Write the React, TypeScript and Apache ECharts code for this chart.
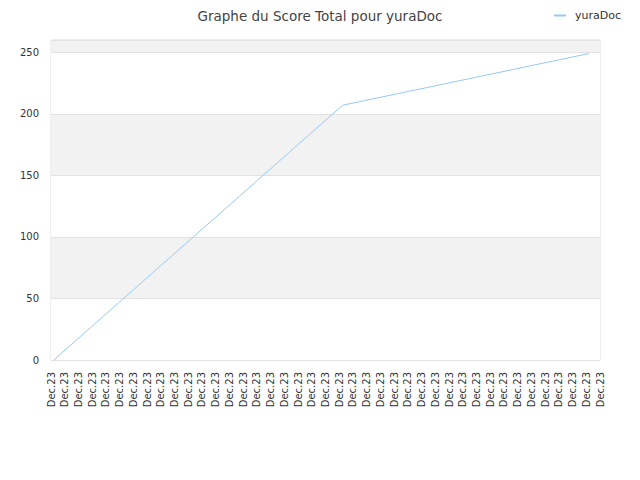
import React, { useEffect, useRef } from "react";
import * as echarts from "echarts";

const seriesName = "yuraDoc";
const titleText = "Graphe du Score Total pour yuraDoc";
const tickLabel = "Dec.23";
const tickCount = 41;
const xPositions = [0.2, 21.25, 39.2];
const scores = [0, 207, 249];

export default function App() {
  const ref = useRef<HTMLDivElement>(null);
  useEffect(() => {
    if (!ref.current) return;
    const chart = echarts.init(ref.current, undefined, { renderer: "svg" });
    const font = "DejaVu Sans";
    chart.setOption({
      animation: false,
      title: {
        text: titleText,
        left: "center",
        top: 4,
        textStyle: { fontFamily: font, fontSize: 13.5, fontWeight: "normal", color: "#444" },
      },
      legend: {
        right: 14,
        top: 5,
        icon: "rect",
        itemWidth: 12,
        itemHeight: 2,
        itemGap: 6,
        textStyle: { fontFamily: font, fontSize: 11, color: "#333", padding: [0, 0, 0, 4] },
        data: [seriesName],
      },
      grid: {
        left: 51,
        right: 40,
        top: 40,
        bottom: 120,
        show: true,
        borderColor: "#dddddd",
        borderWidth: 1,
        containLabel: false,
      },
      xAxis: {
        type: "value",
        min: 0,
        max: tickCount - 1,
        interval: 1,
        axisLine: { show: false },
        axisTick: { show: false },
        splitLine: { show: false },
        axisLabel: {
          rotate: 90,
          margin: 12,
          fontFamily: font,
          fontSize: 10,
          color: "#333",
          formatter: () => tickLabel,
          showMinLabel: true,
          showMaxLabel: true,
        },
      },
      yAxis: {
        type: "value",
        min: 0,
        max: 260,
        interval: 50,
        axisLine: { show: false },
        axisTick: { show: false },
        splitLine: { show: true, lineStyle: { color: "#e2e2e2" } },
        splitArea: { show: true, areaStyle: { color: ["#ffffff", "#f2f2f2"] } },
        axisLabel: {
          margin: 12,
          fontFamily: font,
          fontSize: 10,
          color: "#333",
          showMaxLabel: false,
          formatter: (v: number) => (v % 50 === 0 ? String(v) : ""),
        },
      },
      series: [
        {
          name: seriesName,
          type: "line",
          data: xPositions.map((x, i) => [x, scores[i]]),
          showSymbol: false,
          symbol: "none",
          itemStyle: { color: "#99c8f5" },
          lineStyle: { color: "#99c8f5", width: 1 },
        },
      ],
    });
    return () => chart.dispose();
  }, []);
  return (
    <div
      ref={ref}
      style={{ position: "absolute", left: 0, top: 0, width: 640, height: 480 }}
    />
  );
}
